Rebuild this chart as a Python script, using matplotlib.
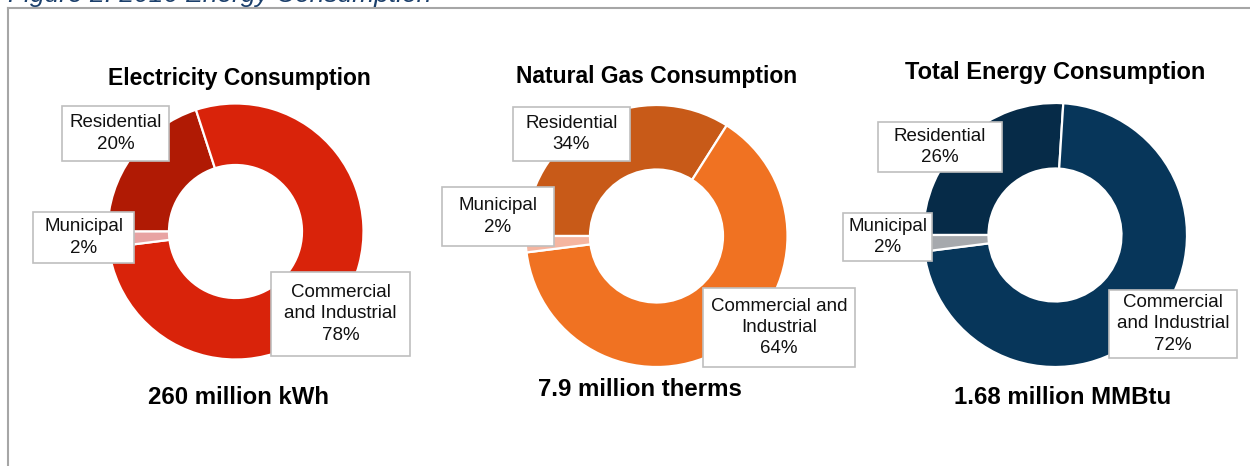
import matplotlib.pyplot as plt
from matplotlib.lines import Line2D
from matplotlib.patches import Rectangle

plt.rcParams["font.family"] = ["Liberation Sans", "DejaVu Sans"]

# shares in percent, slice order: Residential, Commercial and Industrial, Municipal
sectors = ["Residential", "Commercial and Industrial", "Municipal"]
electricity = [20, 78, 2]
natural_gas = [34, 64, 2]
total_energy = [26, 72, 2]

titles = ["Electricity Consumption", "Natural Gas Consumption", "Total Energy Consumption"]
totals = ["260 million kWh", "7.9 million therms", "1.68 million MMBtu"]

# how each sector name wraps inside its label box, per chart
label_names = [
    ["Residential", "Commercial\nand Industrial", "Municipal"],
    ["Residential", "Commercial and\nIndustrial", "Municipal"],
    ["Residential", "Commercial\nand Industrial", "Municipal"],
]

palettes = [
    ["#B01A04", "#D9230A", "#E8A3A3"],
    ["#C85A18", "#F07222", "#F5B5A0"],
    ["#062B48", "#07365A", "#A6A9AD"],
]

# layout in pixels (x right, y down from the top edge)
W, H = 1250, 466
centers = [(235.5, 231.5), (656.5, 236), (1055, 235)]
radii = [128, 131, 132]
hole = 66.5
title_xy = [(239, 78), (656.5, 76), (1055, 72)]
title_size = [16.5, 16.5, 17]
total_xy = [(239, 397), (640, 390), (1063, 397)]
# label boxes: (left, top, right, bottom) per sector
boxes = [
    [(62, 106, 169, 161), (271, 272, 410, 356), (33, 212, 134, 263)],
    [(513, 107, 630, 161), (703, 288, 855, 367), (442, 187, 554, 246)],
    [(878, 122, 1002, 172), (1109, 290, 1237, 358), (843, 213, 932, 261)],
]

charts = [electricity, natural_gas, total_energy]

fig = plt.figure(figsize=(W / 100, H / 100), dpi=100)
ax = fig.add_axes([0, 0, 1, 1])

for i, shares in enumerate(charts):
    cx, cy = centers[i]
    r = radii[i]
    ax.pie(shares, center=(cx, H - cy), radius=r, startangle=180,
           counterclock=False, colors=palettes[i],
           wedgeprops=dict(width=r - hole, edgecolor="white", linewidth=1.6))
    tx, ty = title_xy[i]
    ax.text(tx, H - ty, titles[i], ha="center", va="center",
            fontsize=title_size[i], fontweight="bold", color="black")
    tx, ty = total_xy[i]
    ax.text(tx, H - ty, totals[i], ha="center", va="center",
            fontsize=17.3, fontweight="bold", color="black")
    for name, pct, (x0, y0, x1, y1) in zip(label_names[i], shares, boxes[i]):
        ax.add_patch(Rectangle((x0, H - y1), x1 - x0, y1 - y0, facecolor="white",
                               edgecolor="#BFBFBF", linewidth=1.2, zorder=3))
        ax.text((x0 + x1) / 2, H - (y0 + y1) / 2, f"{name}\n{pct}%",
                ha="center", va="center", multialignment="center",
                fontsize=13.5, color="#111111", linespacing=1.33, zorder=4)

ax.set_xlim(0, W)
ax.set_ylim(0, H)
ax.set_aspect("equal")
ax.axis("off")

# outer frame (top and left edges) and the clipped caption above it
fig.add_artist(Line2D([8 / W, 1], [1 - 8 / H, 1 - 8 / H], color="#A6A6A6", linewidth=1.5))
fig.add_artist(Line2D([8 / W, 8 / W], [0, 1 - 8 / H], color="#A6A6A6", linewidth=1.5))
fig.text(8 / W, 1 - 2 / H, "Figure 2: 2016 Energy Consumption", ha="left",
         va="baseline", fontsize=19, style="italic", color="#1B3F6B")

fig.savefig("out.png", dpi=100)
